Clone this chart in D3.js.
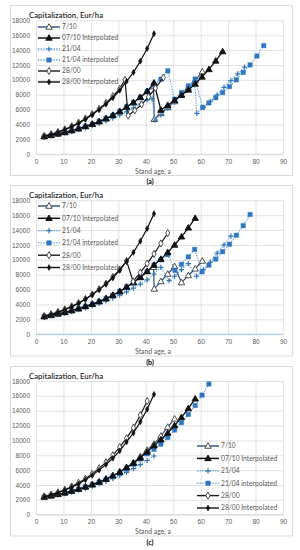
<!DOCTYPE html>
<html><head><meta charset="utf-8">
<script src="https://cdn.jsdelivr.net/npm/d3@7"></script>
<style>body{margin:0;background:#fff}svg{display:block}</style>
</head><body>
<script>
// ---------- data ----------
const ageTicks = [0,10,20,30,40,50,60,70,80,90];
const valueTicks = [0,2000,4000,6000,8000,10000,12000,14000,16000,18000];
const seriesNames = ["7/10","07/10 Interpolated","21/04","21/04 interpolated","28/00","28/00 Interpolated"];
const yTitle = "Capitalization, Eur/ha";
const xTitle = "Stand age, a";
const panelLabels = ["(a)","(b)","(c)"];

// panel (a)
const a_710 = [[3,2400],[5.5,2550],[8,2750],[10.5,2950],[13,3200],[15.5,3450],[18,3750],[20.5,4050],[23,4400],[25.5,4800],[28,5250],[30.5,5750],[33,6350],[35.5,6950],[38,7650],[40.5,8450],[42.8,9100],[43.1,4700],[45.5,5500],[48,6300],[50.5,7100],[53,8000],[55.5,8900],[58,9900],[60.6,11100]];
const a_0710i = [[3,2400],[5.5,2550],[8,2750],[10.5,2950],[13,3200],[15.5,3450],[18,3750],[20.5,4050],[23,4400],[25.5,4800],[28,5250],[30.5,5750],[33,6350],[35.5,6950],[38,7650],[40.5,8450],[43,9600],[45.5,5950],[48,6600],[50.5,7250],[53,7950],[55.5,8650],[58,9450],[60.5,10400],[63,11400],[65.5,12550],[68,13800]];
const a_2104 = [[3,2400],[5.5,2500],[8,2650],[10.5,2850],[13,3050],[15.5,3300],[18,3550],[20.5,3850],[23,4150],[25.5,4500],[28,4850],[30.5,5250],[33,5700],[35.5,6200],[38,6750],[40.5,7300],[42.3,7450],[43.4,4600],[45.5,5300],[48,6200],[50.5,7000],[53,7900],[55.5,8900],[57.8,9800],[58.6,5500],[61,6300],[63.5,7100],[66,8000],[68.5,9000],[71,9900],[73.5,10800],[76,11700]];
const a_2104i = [[3,2400],[5.5,2550],[8,2750],[10.5,2950],[13,3200],[15.5,3450],[18,3750],[20.5,4050],[23,4400],[25.5,4800],[28,5250],[30.5,5750],[33,6350],[35.5,6950],[38,7650],[40.5,8450],[43,9300],[45.5,10100],[48,11200],[50.5,7400],[53,8300],[55.5,9200],[58,10100],[60.7,6300],[63,6900],[65.5,7600],[68,8300],[70.5,9100],[73,10000],[75.5,11000],[78,12000],[80.5,13200],[83,14600]];
const a_2800 = [[3,2450],[5.5,2700],[8,3000],[10.5,3350],[13,3750],[15.5,4250],[18,4800],[20.5,5400],[23,6100],[25.5,6900],[28,7800],[30.5,8800],[32.4,10000],[33.6,5200],[36,5900],[38.5,6700],[41,7700],[43.5,8900],[46.4,10300]];
const a_2800i = [[3,2400],[5.5,2650],[8,2950],[10.5,3300],[13,3700],[15.5,4150],[18,4700],[20.5,5300],[23,6000],[25.5,6750],[28,7600],[30.5,8600],[33,9800],[35.5,11000],[38,12500],[40.5,14200],[43,16200]];

// panel (b)
const b_710 = [[3,2400],[5.5,2550],[8,2750],[10.5,2950],[13,3200],[15.5,3450],[18,3750],[20.5,4050],[23,4400],[25.5,4800],[28,5250],[30.5,5750],[33,6350],[35.5,6950],[38,7650],[40.5,8450],[42.8,9000],[43.1,6100],[45.5,7100],[48,8100],[50.5,9100],[53,6950],[55.5,7900],[58,8800],[60.6,9850]];
const b_0710i = [[3,2400],[5.5,2550],[8,2750],[10.5,2950],[13,3200],[15.5,3450],[18,3750],[20.5,4050],[23,4400],[25.5,4800],[28,5250],[30.5,5750],[33,6350],[35.5,6950],[38,7650],[40.5,8450],[43,9300],[45.5,10100],[48,11000],[50.5,12000],[53,13100],[55.5,14300],[58,15600]];
const b_2104 = [[3,2400],[5.5,2500],[8,2650],[10.5,2850],[13,3050],[15.5,3300],[18,3550],[20.5,3850],[23,4150],[25.5,4500],[28,4850],[30.5,5250],[33,5700],[35.5,6200],[38,6750],[40.5,7300],[43,8100],[45.5,9000],[48.5,7200],[50.5,7800],[53,8700],[55.5,9500],[58.5,7800],[61,8700],[63.5,9700],[66,10900],[68.5,12000],[71,13200]];
const b_2104i = [[3,2400],[5.5,2550],[8,2750],[10.5,2950],[13,3200],[15.5,3450],[18,3750],[20.5,4050],[23,4400],[25.5,4800],[28,5250],[30.5,5750],[33,6350],[35.5,6950],[38,7650],[40.5,8450],[43,9300],[45.5,10000],[48,10700],[50.6,8600],[53,9400],[55.5,10400],[57.8,11400],[60.5,8400],[63,9300],[65.5,10100],[68,11100],[70.5,12100],[73,13300],[75.5,14600],[78,16100]];
const b_2800 = [[3,2450],[5.5,2700],[8,3000],[10.5,3350],[13,3750],[15.5,4200],[18,4750],[20.5,5350],[23,6050],[25.5,6800],[28,7700],[30.5,8700],[33,9850],[35.4,7100],[38,8300],[40.5,9500],[43,10800],[45.5,12200],[48,13600]];
const b_2800i = [[3,2400],[5.5,2650],[8,2950],[10.5,3300],[13,3700],[15.5,4150],[18,4700],[20.5,5300],[23,6000],[25.5,6750],[28,7600],[30.5,8600],[33,9800],[35.5,11000],[38,12500],[40.5,14200],[43,16200]];

// panel (c)
const c_710 = [[3,2400],[5.5,2550],[8,2750],[10.5,2950],[13,3200],[15.5,3450],[18,3750],[20.5,4050],[23,4400],[25.5,4800],[28,5250],[30.5,5750],[33,6350],[35.5,7000],[38,7800],[40.5,8700],[43,9500],[45.5,10600],[48,11800],[50.5,12900]];
const c_0710i = [[3,2400],[5.5,2550],[8,2750],[10.5,2950],[13,3200],[15.5,3450],[18,3750],[20.5,4050],[23,4400],[25.5,4800],[28,5250],[30.5,5750],[33,6350],[35.5,6950],[38,7650],[40.5,8450],[43,9300],[45.5,10100],[48,11000],[50.5,12000],[53,13100],[55.5,14300],[58,15600]];
const c_2104 = [[3,2400],[5.5,2500],[8,2650],[10.5,2850],[13,3050],[15.5,3300],[18,3550],[20.5,3850],[23,4150],[25.5,4500],[28,4850],[30.5,5250],[33,5700],[35.5,6200],[38,6750],[40.5,7300],[43,7900]];
const c_2104i = [[3,2400],[5.5,2550],[8,2750],[10.5,2950],[13,3200],[15.5,3450],[18,3750],[20.5,4050],[23,4400],[25.5,4750],[28,5150],[30.5,5600],[33,6150],[35.5,6800],[38,7500],[40.5,8200],[43,8800],[45.5,9500],[48,10400],[50.5,11400],[53,12400],[55.5,13500],[58,14700],[60.5,16100],[63,17600]];
const c_2800 = [[3,2450],[5.5,2700],[8,3000],[10.5,3350],[13,3800],[15.5,4300],[18,4850],[20.5,5500],[23,6250],[25.5,7050],[28,8000],[30.5,9100],[33,10300],[35.5,11700],[38,13400],[40.5,15300]];
const c_2800i = [[3,2400],[5.5,2650],[8,2950],[10.5,3300],[13,3700],[15.5,4150],[18,4700],[20.5,5300],[23,6000],[25.5,6750],[28,7600],[30.5,8600],[33,9800],[35.5,11000],[38,12500],[40.5,14200],[43,16200]];

// ---------- styles & layout ----------
const seriesStyle = [
  {color:"#2f4f7f", dash:null, width:1.2, marker:"triOpen", mcolor:"#3a3a3a"},
  {color:"#111111", dash:null, width:1.3, marker:"triFill", mcolor:"#111111"},
  {color:"#5b9bd5", dash:"1.3,1.3", width:1.1, marker:"plus", mcolor:"#2e75b6"},
  {color:"#5b9bd5", dash:"1.3,1.3", width:1.1, marker:"square", mcolor:"#2e75c4"},
  {color:"#1a1a1a", dash:null, width:1.2, marker:"diaOpen", mcolor:"#3a3a3a"},
  {color:"#111111", dash:null, width:1.2, marker:"diaFill", mcolor:"#111111"}
];
const panels = [
  {box:5, top:20.3, bottom:154.3, label:181.5, legX:38, legY:27, legDy:11, axisCol:"#d9d9d9",
   data:[a_710,a_0710i,a_2104,a_2104i,a_2800,a_2800i]},
  {box:185, top:200.3, bottom:334.3, label:362, legX:38, legY:206, legDy:12.3, axisCol:"#9dc3e6",
   data:[b_710,b_0710i,b_2104,b_2104i,b_2800,b_2800i]},
  {box:366, top:381, bottom:514.7, label:542, legX:197, legY:446, legDy:12.4, axisCol:"#d9d9d9",
   data:[c_710,c_0710i,c_2104,c_2104i,c_2800,c_2800i]}
];
const drawOrder = [0,2,3,1,4,5];

const W=300,H=550;
const svg=d3.select("body").append("svg").attr("width",W).attr("height",H)
  .style("font-family","Lato, 'Open Sans', 'Liberation Sans', sans-serif");
svg.append("rect").attr("width",W).attr("height",H).attr("fill","#fff");

function drawMarker(g, type, col, x, y){
  if(type==="triOpen"||type==="triFill"){
    g.append("path").attr("d",d3.symbol(d3.symbolTriangle,18)()).attr("transform",`translate(${x},${y+0.4})`)
      .attr("fill", type==="triFill"?col:"#fff").attr("stroke",col).attr("stroke-width",0.9);
  } else if(type==="square"){
    g.append("path").attr("d",d3.symbol(d3.symbolSquare,20)()).attr("transform",`translate(${x},${y})`)
      .attr("fill",col).attr("stroke",col).attr("stroke-width",0.4);
  } else if(type==="plus"){
    g.append("path").attr("d","M-2.6,0H2.6M0,-2.6V2.6").attr("transform",`translate(${x},${y})`)
      .attr("stroke",col).attr("stroke-width",1.2).attr("fill","none");
  } else if(type==="diaOpen"){
    g.append("path").attr("d",d3.symbol(d3.symbolDiamond,15)()).attr("transform",`translate(${x},${y})`)
      .attr("fill","#fff").attr("stroke",col).attr("stroke-width",0.9);
  } else if(type==="diaFill"){
    g.append("path").attr("d",d3.symbol(d3.symbolDiamond,10)()).attr("transform",`translate(${x},${y})`)
      .attr("fill",col).attr("stroke",col).attr("stroke-width",0.6);
  }
}

panels.forEach((p,pi)=>{
  const g = svg.append("g");
  const x = d3.scaleLinear().domain([0,90]).range([36,283]);
  const y = d3.scaleLinear().domain([0,18000]).range([p.bottom,p.top]);
  // outer frame
  g.append("rect").attr("x",10.5).attr("y",p.box+0.5).attr("width",282).attr("height",p.label-p.box-6.5)
    .attr("fill","none").attr("stroke","#d9d9d9").attr("stroke-width",1);
  // axes & gridlines
  const ya = g.append("g").attr("transform","translate(36,0)")
    .call(d3.axisLeft(y).tickValues(valueTicks).tickSize(-247).tickPadding(6).tickFormat(d3.format("d")));
  const xa = g.append("g").attr("transform",`translate(0,${p.bottom})`)
    .call(d3.axisBottom(x).tickValues(ageTicks).tickSize(-(p.bottom-p.top)).tickPadding(5).tickFormat(d3.format("d")));
  [ya,xa].forEach(a=>{
    a.select(".domain").remove();
    a.selectAll("line").attr("stroke","#d9d9d9").attr("stroke-width",0.8);
    a.selectAll("text").attr("fill","#595959").style("font-size","6.5px");
  });
  g.append("line").attr("x1",36).attr("x2",283).attr("y1",p.bottom).attr("y2",p.bottom)
    .attr("stroke",p.axisCol).attr("stroke-width",1);
  // titles
  g.append("text").attr("x",29).attr("y",p.top-2.2).text(yTitle)
    .attr("fill","#262626").style("font-size","7.8px").style("font-weight","600");
  g.append("text").attr("x",153).attr("y",p.bottom+19.3).attr("text-anchor","middle").text(xTitle)
    .attr("fill","#595959").style("font-size","6.8px");
  g.append("text").attr("x",150).attr("y",p.label+2.5).attr("text-anchor","middle").text(panelLabels[pi])
    .attr("fill","#000").style("font-size","7px").style("font-weight","bold");
  // series
  const line = d3.line().x(d=>x(d[0])).y(d=>y(d[1]));
  drawOrder.forEach(si=>{
    const st = seriesStyle[si], d = p.data[si];
    g.append("path").attr("d",line(d)).attr("fill","none").attr("stroke",st.color)
      .attr("stroke-width",st.width).attr("stroke-dasharray",st.dash).attr("stroke-linejoin","round");
    d.forEach(pt=>drawMarker(g, st.marker, st.mcolor, x(pt[0]), y(pt[1])));
  });
  // legend
  seriesNames.forEach((nm,i)=>{
    const st = seriesStyle[i], ly = p.legY + i*p.legDy;
    g.append("line").attr("x1",p.legX).attr("x2",p.legX+22).attr("y1",ly).attr("y2",ly)
      .attr("stroke",st.color).attr("stroke-width",st.width+0.2).attr("stroke-dasharray",st.dash);
    drawMarker(g, st.marker, st.mcolor, p.legX+11, ly);
    g.append("text").attr("x",p.legX+24).attr("y",ly+2.3).text(nm)
      .attr("fill","#595959").style("font-size","6.7px");
  });
});
</script>
</body></html>
